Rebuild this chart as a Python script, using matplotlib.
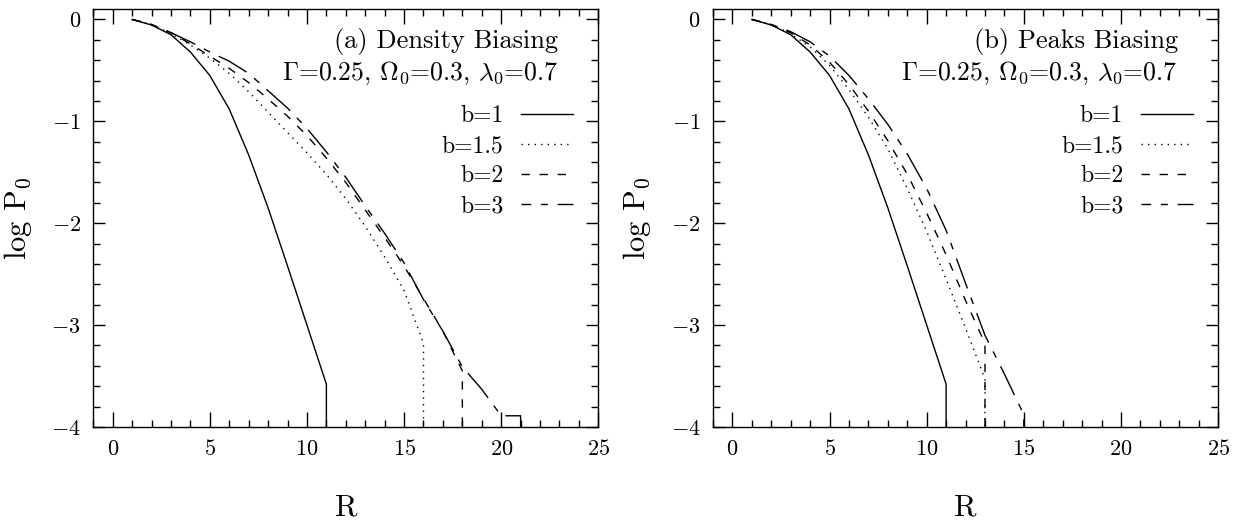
import matplotlib
matplotlib.use("Agg")
import matplotlib.pyplot as plt
from matplotlib.ticker import MultipleLocator

plt.rcParams['font.family'] = ['cmr10', 'DejaVu Serif']
plt.rcParams['mathtext.fontset'] = 'cm'
plt.rcParams['axes.formatter.use_mathtext'] = True
plt.rcParams['axes.unicode_minus'] = True

# ---------------- data ----------------
R_b1 = [1, 2, 3, 4, 5, 6, 7, 8, 9, 10, 11, 11]
P_b1 = [0.0, -0.055, -0.15, -0.32, -0.55, -0.88, -1.33, -1.85, -2.42, -3.0, -3.58, -4.0]

# (a) density biasing
R_den_b15 = [1, 2, 3, 4, 5, 6, 7, 8, 9, 10, 11, 12, 13, 14, 15, 16, 16]
P_den_b15 = [0.0, -0.05, -0.14, -0.25, -0.38, -0.53, -0.71, -0.91, -1.11, -1.31,
             -1.52, -1.76, -2.03, -2.33, -2.66, -3.18, -4.0]
R_den_b2 = [1, 2, 3, 4, 5, 6, 7, 8, 9, 10, 11, 12, 13, 14, 15, 16, 17, 18, 18]
P_den_b2 = [0.0, -0.05, -0.13, -0.24, -0.36, -0.48, -0.62, -0.78, -0.95, -1.14,
            -1.36, -1.60, -1.87, -2.14, -2.42, -2.74, -3.06, -3.45, -4.0]
R_den_b3 = [1, 2, 3, 4, 5, 6, 7, 8, 9, 10, 11, 12, 13, 14, 15, 16, 17, 18, 19, 20, 21, 21]
P_den_b3 = [0.0, -0.05, -0.13, -0.22, -0.32, -0.41, -0.53, -0.70, -0.87, -1.07,
            -1.30, -1.55, -1.83, -2.10, -2.39, -2.75, -3.06, -3.41, -3.63, -3.89,
            -3.89, -4.0]

# (b) peaks biasing
R_pk_b15 = [1, 2, 3, 4, 5, 6, 7, 8, 9, 10, 11, 12, 13, 13]
P_pk_b15 = [0.0, -0.05, -0.14, -0.27, -0.45, -0.69, -0.96, -1.27, -1.66, -2.08,
            -2.55, -3.03, -3.53, -4.0]
R_pk_b2 = [1, 2, 3, 4, 5, 6, 7, 8, 9, 10, 11, 12, 13, 13]
P_pk_b2 = [0.0, -0.05, -0.13, -0.25, -0.42, -0.64, -0.90, -1.19, -1.52, -1.90,
           -2.31, -2.76, -3.18, -4.0]
R_pk_b3 = [1, 2, 3, 4, 5, 6, 7, 8, 9, 10, 11, 12, 13, 14, 15, 15]
P_pk_b3 = [0.0, -0.05, -0.12, -0.22, -0.36, -0.55, -0.78, -1.03, -1.32, -1.66,
           -2.07, -2.59, -3.10, -3.48, -3.88, -4.0]

labels = ["b=1", "b=1.5", "b=2", "b=3"]
panel_titles = ["(a) Density Biasing", "(b) Peaks Biasing"]
param_text = r"$\Gamma$=0.25, $\Omega_0$=0.3, $\lambda_0$=0.7"

styles = [
    dict(linestyle='-'),
    dict(linestyle=(0, (1, 3.7))),
    dict(linestyle=(0, (6, 7))),
    dict(linestyle=(28, (5, 7, 23, 7))),
]

fig = plt.figure(figsize=(12.39, 5.23), dpi=100)
axL = fig.add_axes([0.0753, 0.1836, 0.4076, 0.7987])
axR = fig.add_axes([0.5755, 0.1836, 0.4076, 0.7987])

panels = [
    (axL, [(R_b1, P_b1), (R_den_b15, P_den_b15), (R_den_b2, P_den_b2), (R_den_b3, P_den_b3)], panel_titles[0]),
    (axR, [(R_b1, P_b1), (R_pk_b15, P_pk_b15), (R_pk_b2, P_pk_b2), (R_pk_b3, P_pk_b3)], panel_titles[1]),
]

for ax, series, title in panels:
    handles = []
    for (x, y), lab, st in zip(series, labels, styles):
        h, = ax.plot(x, y, color='black', lw=1.0, label=lab, **st)
        handles.append(h)
    ax.set_xlim(-1, 25)
    ax.set_ylim(-4, 0.1)
    ax.xaxis.set_major_locator(MultipleLocator(5))
    ax.xaxis.set_minor_locator(MultipleLocator(1))
    ax.yaxis.set_major_locator(MultipleLocator(1))
    ax.yaxis.set_minor_locator(MultipleLocator(0.2))
    ax.tick_params(which='both', direction='in', top=True, right=True, width=1.0, labelsize=16)
    ax.tick_params(axis='x', which='major', length=11, pad=9)
    ax.tick_params(axis='y', which='major', length=8.5, pad=9)
    ax.tick_params(which='minor', length=5)
    for s in ax.spines.values():
        s.set_linewidth(1.0)
    ax.set_xlabel("R", fontsize=22)
    ax.set_ylabel(r"log P$_0$", fontsize=22)
    ax.xaxis.set_label_coords(0.5, -0.16)
    ax.yaxis.set_label_coords(-0.118, 0.5)
    ax.text(0.92, 0.922, title, transform=ax.transAxes, ha='right', va='center', fontsize=19)
    ax.text(0.92, 0.847, param_text, transform=ax.transAxes, ha='right', va='center', fontsize=18.5)
    ax.legend(handles=handles, loc='upper right', bbox_to_anchor=(0.95, 0.77),
              frameon=False, markerfirst=False, fontsize=17, borderpad=0, borderaxespad=0,
              handlelength=2.2, handletextpad=0.75, labelspacing=0.33)

fig.savefig("out.png", dpi=100)
